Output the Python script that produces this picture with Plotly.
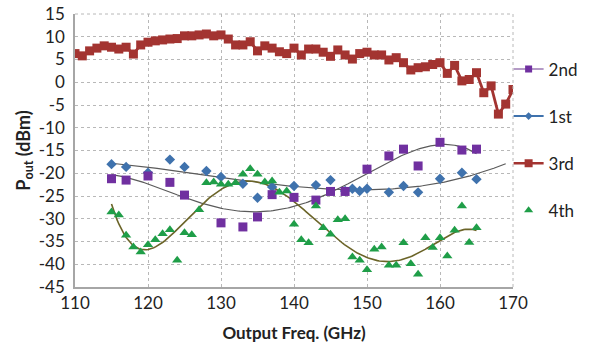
import numpy as np
import plotly.graph_objects as go

# ---- data ----
freq_3rd = list(range(110, 171))
p_3rd = [6.3, 5.8, 6.9, 7.5, 8.0, 7.7, 7.3, 7.7, 6.2, 8.2,
         8.8, 9.1, 9.3, 9.5, 9.6, 10.2, 10.2, 10.4, 10.6, 10.2,
         10.4, 9.5, 8.2, 8.2, 8.9, 6.9, 8.0, 7.5, 6.7, 6.3,
         7.5, 6.0, 7.3, 7.3, 6.6, 5.7, 7.1, 6.0, 5.1, 6.3,
         6.6, 6.0, 6.0, 4.9, 5.4, 4.3, 2.7, 3.2, 3.4, 3.9,
         4.3, 1.95, 3.7, 0.3, 0.6, 2.1, -2.3, -0.8, -7.0, -4.8, -1.6]

freq_1st = [115, 117, 120, 123, 125, 128, 130, 133, 135, 137, 140, 143, 145,
            147, 148, 149, 150, 153, 155, 157, 160, 163, 165]
p_1st = [-18.0, -18.6, -19.9, -17.0, -18.6, -19.5, -20.8, -22.3, -25.4, -23.0,
         -22.8, -22.6, -21.5, -23.9, -23.4, -23.9, -23.4, -24.2, -22.8, -24.2,
         -21.2, -19.9, -21.3]

freq_2nd = [115, 117, 120, 123, 125, 130, 133, 135, 137, 140, 143, 145, 147,
            150, 153, 155, 157, 160, 163, 165]
p_2nd = [-21.2, -21.5, -20.6, -22.0, -24.8, -30.9, -31.8, -29.6, -24.7, -25.3,
         -25.9, -24.0, -24.0, -19.1, -16.2, -14.7, -18.4, -13.2, -14.9, -14.7]

freq_4th = list(range(115, 166))
p_4th = [-28.5, -29.2, -33.6, -36.2, -37.3, -35.7, -34.6, -33.3, -32.4, -39.1,
         -33.1, -33.5, -28.0, -22.1, -21.9, -22.4, -22.4, -22.1, -20.2, -19.0,
         -20.2, -21.9, -21.7, -24.2, -23.9, -31.2, -34.6, -35.3, -27.2, -32.0,
         -33.4, -30.2, -30.0, -38.4, -39.1, -41.2, -36.7, -36.2, -40.2, -40.2,
         -35.3, -39.9, -42.2, -34.2, -36.3, -34.2, -38.2, -32.5, -27.2, -35.2, -32.0]

series_names = ["2nd", "1st", "3rd", "4th"]
x_ticks = [110, 120, 130, 140, 150, 160, 170]
y_ticks = [15, 10, 5, 0, -5, -10, -15, -20, -25, -30, -35, -40, -45]

C_2ND = "#7030a0"
C_1ST = "#3f72ad"
C_3RD = "#a33431"
C_4TH = "#1f9e48"
FONT = "Lato"


def trend(xs, ys, deg, x0, x1):
    xs = np.asarray(xs, float)
    ys = np.asarray(ys, float)
    c = np.polyfit(xs - 140.0, ys, deg)
    xx = np.linspace(x0, x1, 200)
    return xx, np.polyval(c, xx - 140.0)


fig = go.Figure()

# trendlines
tx, ty = trend(freq_1st, p_1st, 3, 115, 169)
fig.add_trace(go.Scatter(x=tx, y=ty, mode="lines", line=dict(color="#5a5a5a", width=1.2),
                         showlegend=False, hoverinfo="skip"))
tx, ty = trend(freq_2nd, p_2nd, 4, 115, 165)
fig.add_trace(go.Scatter(x=tx, y=ty, mode="lines", line=dict(color="#5a5a5a", width=1.2),
                         showlegend=False, hoverinfo="skip"))
tx, ty = trend(freq_4th, p_4th, 5, 115, 165)
fig.add_trace(go.Scatter(x=tx, y=ty, mode="lines", line=dict(color="#6b6428", width=1.6),
                         showlegend=False, hoverinfo="skip"))

# data
fig.add_trace(go.Scatter(x=freq_3rd, y=p_3rd, mode="lines+markers",
                         line=dict(color=C_3RD, width=2.8),
                         marker=dict(symbol="square", size=9, color=C_3RD),
                         showlegend=False))
fig.add_trace(go.Scatter(x=freq_1st, y=p_1st, mode="markers",
                         marker=dict(symbol="diamond", size=8, color=C_1ST),
                         showlegend=False))
fig.add_trace(go.Scatter(x=freq_2nd, y=p_2nd, mode="markers",
                         marker=dict(symbol="square", size=9, color=C_2ND),
                         showlegend=False))
fig.add_trace(go.Scatter(x=freq_4th, y=p_4th, mode="markers",
                         marker=dict(symbol="triangle-up", size=9, color=C_4TH),
                         showlegend=False))

# legend entries
leg_styles = {
    "2nd": dict(mode="lines+markers", line=dict(color="#b49ac6", width=2),
                marker=dict(symbol="square", size=7, color=C_2ND)),
    "1st": dict(mode="lines+markers", line=dict(color=C_1ST, width=2),
                marker=dict(symbol="diamond", size=6, color=C_1ST)),
    "3rd": dict(mode="lines+markers", line=dict(color=C_3RD, width=2.5),
                marker=dict(symbol="square", size=8, color=C_3RD)),
    "4th": dict(mode="markers", marker=dict(symbol="triangle-up", size=8, color=C_4TH)),
}
for i, nm in enumerate(series_names):
    fig.add_trace(go.Scatter(x=[None], y=[None], name=nm, legendgroup=f"g{i}",
                             showlegend=True, **leg_styles[nm]))

fig.update_layout(
    width=590, height=343,
    margin=dict(l=75, r=77, t=14, b=56, autoexpand=False),
    paper_bgcolor="white", plot_bgcolor="white",
    font=dict(family=FONT, size=17, color="#222"),
    legend=dict(x=0.99, y=0.863, xanchor="left", yanchor="top",
                tracegroupgap=22, font=dict(size=17, color="#222"),
                itemwidth=30, bgcolor="rgba(0,0,0,0)"),
    xaxis=dict(range=[110, 170], tickvals=x_ticks, ticktext=[str(v) for v in x_ticks],
               showgrid=True, gridcolor="#b8b8b8", griddash="dot", gridwidth=1,
               showline=True, linecolor="#a6a6a6", linewidth=1.5, mirror=False,
               ticks="", zeroline=False, tickfont=dict(size=17), automargin=False,
               title=dict(text="<b>Output Freq. (GHz)</b>", font=dict(size=17), standoff=16)),
    yaxis=dict(range=[-45, 15], tickvals=y_ticks, ticktext=[str(v) for v in y_ticks],
               showgrid=True, gridcolor="#b8b8b8", griddash="dot", gridwidth=1,
               showline=True, linecolor="#a6a6a6", linewidth=1.5, automargin=False,
               ticks="", zeroline=False, tickfont=dict(size=17), ticklabelstandoff=5,
               title=dict(text="<b>P<sub>out</sub> (dBm)</b>", font=dict(size=18), standoff=4)),
)
# right and top dotted border
fig.add_shape(type="line", xref="paper", yref="paper", x0=1, x1=1, y0=0, y1=1,
              line=dict(color="#b8b8b8", width=1, dash="dot"))
fig.add_shape(type="line", xref="paper", yref="paper", x0=0, x1=1, y0=1, y1=1,
              line=dict(color="#b8b8b8", width=1, dash="dot"))

fig.write_html("out.html", config={"displayModeBar": False},
               post_script="document.body.style.margin='0';document.body.style.padding='0';")
